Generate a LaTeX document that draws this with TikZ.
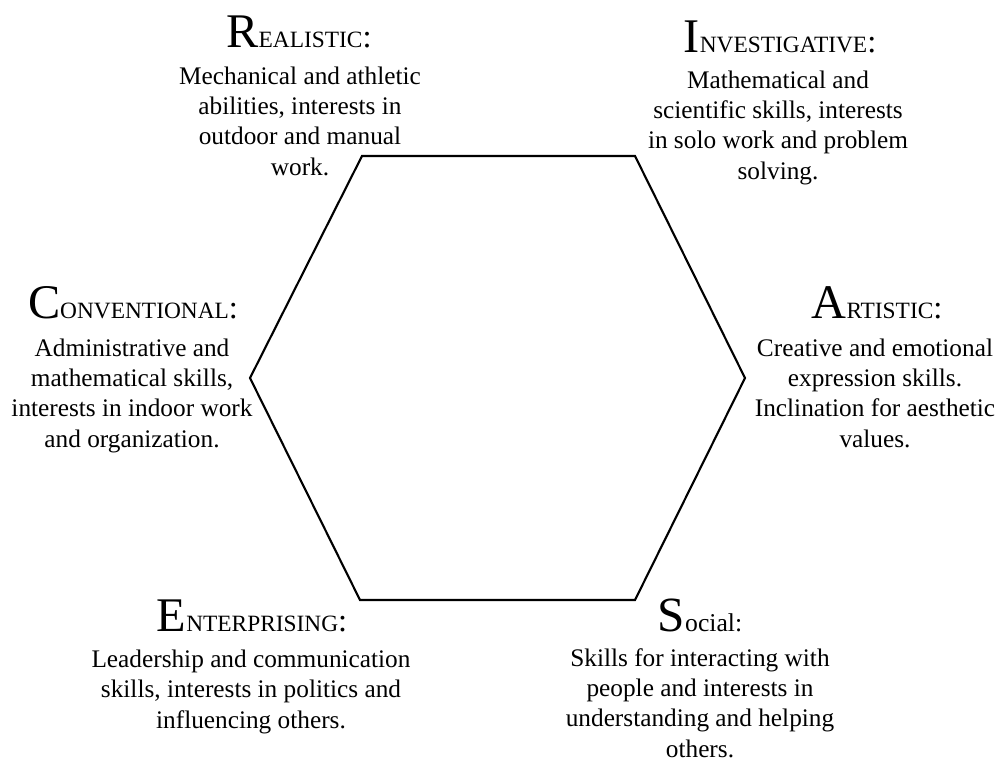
\documentclass[tikz,border=0pt]{standalone}
\usepackage{fontspec}
\setmainfont{Liberation Serif}
\usetikzlibrary{positioning}

% big initial, the rest in small capitals, then the colon
\newcommand{\typetitle}[2]{{\fontsize{27.5}{27.5}\selectfont #1}{\fontsize{13.3}{13.3}\selectfont #2}{\fontsize{18.5}{18.5}\selectfont :}}

\begin{document}
\begin{tikzpicture}[
    x=0.02cm, y=-0.02cm,
    title/.style={anchor=base, inner sep=0pt},
    % anchored on the baseline of the last line
    desc/.style={anchor=base, align=center, inner sep=0pt,
                 font=\fontsize{14.4}{17.2}\selectfont},
    hexline/.style={draw, line width=1.2pt, line join=miter}
  ]
    \useasboundingbox (0,0) rectangle (1000,761);

    % hexagon corners
    \coordinate (tl) at (362,156);
    \coordinate (tr) at (635,156);
    \coordinate (r)  at (745,378);
    \coordinate (br) at (635,600);
    \coordinate (bl) at (360,600);
    \coordinate (l)  at (250,378);
    \draw[hexline] (tl) -- (tr) -- (r) -- (br) -- (bl) -- (l) -- cycle;

    % the six types
    \node[title] (real) at (299,47) {\typetitle{R}{EALISTIC}};
    \node[desc] (realText) at (300,175) {Mechanical and athletic\\abilities, interests in\\outdoor and manual\\work.};

    \node[title] (inv) at (780,52) {\typetitle{I}{NVESTIGATIVE}};
    \node[desc] (invText) at (778,179) {Mathematical and\\scientific skills, interests\\in solo work and problem\\solving.};

    \node[title] (conv) at (133,318) {\typetitle{C}{ONVENTIONAL}};
    \node[desc] (convText) at (132,447) {Administrative and\\mathematical skills,\\interests in indoor work\\and organization.};

    \node[title] (art) at (877,318) {\typetitle{A}{RTISTIC}};
    \node[desc] (artText) at (875,447) {Creative and emotional\\expression skills.\\Inclination for aesthetic\\values.};

    \node[title] (ent) at (252,631) {\typetitle{E}{NTERPRISING}};
    \node[desc] (entText) at (251,728) {Leadership and communication\\skills, interests in politics and\\influencing others.};

    \node[title] (soc) at (700,631) {{\fontsize{28}{28}\selectfont S}{\fontsize{14.6}{14.6}\selectfont ocial:}};
    \node[desc] (socText) at (700,757) {Skills for interacting with\\people and interests in\\understanding and helping\\others.};
  \end{tikzpicture}
\end{document}
